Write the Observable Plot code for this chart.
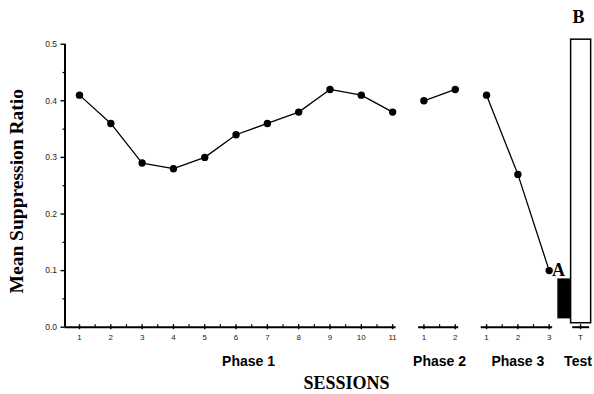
<!DOCTYPE html>
<html><head><meta charset="utf-8">
<script src="https://cdn.jsdelivr.net/npm/d3@7"></script>
<script src="https://cdn.jsdelivr.net/npm/@observablehq/plot@0.6"></script>
<style>
html,body{margin:0;padding:0;background:#fff;}
#chart svg{display:block;overflow:visible;}
</style></head><body><div id="chart"></div>
<script>
// ---- data ----
const panelNames = ["Phase 1", "Phase 2", "Phase 3", "Test"];
const phase1Sessions = [1, 2, 3, 4, 5, 6, 7, 8, 9, 10, 11];
const phase1Values = [0.41, 0.36, 0.29, 0.28, 0.30, 0.34, 0.36, 0.38, 0.42, 0.41, 0.38];
const phase2Sessions = [1, 2];
const phase2Values = [0.40, 0.42];
const phase3Sessions = [1, 2, 3];
const phase3Values = [0.41, 0.27, 0.10];
const testTickLabels = ["T"];
const testBarLabels = ["A", "B"];
const testBarLow = [0.016, 0.007];
const testBarHigh = [0.084, 0.508];
const yTicks = [0, 0.1, 0.2, 0.3, 0.4, 0.5];
const yMinorTicks = [0.05, 0.15, 0.25, 0.35, 0.45];
const yLabel = "Mean Suppression Ratio";
const xLabel = "SESSIONS";

// ---- layout (slot positions) ----
const serif = "'Liberation Serif','Times New Roman',serif";
const sans = "'Liberation Sans',Arial,Helvetica,sans-serif";
const panelOffsets = [0, 11, 13, 16];
const panelSessions = [phase1Sessions, phase2Sessions, phase3Sessions, [1]];
const panelTickLabels = [phase1Sessions.map(String), phase2Sessions.map(String), phase3Sessions.map(String), testTickLabels];
const axisStart = 0.537;
const testPos = panelOffsets[3] + 1;

const seriesValues = [phase1Values, phase2Values, phase3Values];
const points = [];
seriesValues.forEach((vals, k) => {
  panelSessions[k].forEach((s, i) => points.push({panel: panelNames[k], pos: panelOffsets[k] + s, value: vals[i]}));
});

const majorTicks = [], minorTicks = [], segments = [], panelLabels = [];
panelNames.forEach((name, k) => {
  const ss = panelSessions[k];
  ss.forEach((s, i) => majorTicks.push({pos: panelOffsets[k] + s, label: panelTickLabels[k][i]}));
  for (let i = 0; i < ss.length - 1; i++) minorTicks.push({pos: panelOffsets[k] + ss[i] + 0.5});
  const first = panelOffsets[k] + ss[0], last = panelOffsets[k] + ss[ss.length - 1];
  let lo = first - 0.17, hi = last + 0.11;
  if (k === 0) lo = axisStart;
  if (k === 3) { lo = first - 0.25; hi = last + 0.29; }
  segments.push({x1: lo, x2: hi});
  let cx = (first + last) / 2;
  if (k === 0) cx = 6.4;
  if (k === 3) cx = last - 0.08;
  panelLabels.push({pos: cx, name});
});

const bars = testBarLabels.map((l, i) => ({
  label: l, low: testBarLow[i], high: testBarHigh[i],
  x1: i === 0 ? testPos - 0.70 : testPos - 0.30,
  x2: i === 0 ? testPos - 0.30 : testPos + 0.34,
  fill: i === 0 ? "black" : "white"
}));

const chart = Plot.plot({
  width: 594, height: 394,
  marginLeft: 64.5, marginTop: 43.7, marginBottom: 67.3, marginRight: 14,
  style: {background: "white", overflow: "visible"},
  x: {domain: [axisStart, testPos], range: [64.5, 580], axis: null},
  y: {domain: [0, 0.5], range: [326.7, 43.7], axis: null},
  marks: [
    Plot.axisY({ticks: yTicks, tickFormat: d3.format(".1f"), tickSize: 4, tickPadding: 4, fontSize: 8.5, fontFamily: sans, fill: "#222", strokeWidth: 1.4, label: null}),
    Plot.axisY({ticks: yMinorTicks, tickFormat: () => "", tickSize: 2, strokeWidth: 1.2, label: null}),
    Plot.ruleX([0], {x: axisStart, y1: 0, y2: 0.5, strokeWidth: 2}),
    Plot.ruleY(segments, {x1: "x1", x2: "x2", y: 0, strokeWidth: 2}),
    Plot.ruleX(majorTicks, {x: "pos", y1: 0, y2: 0, insetTop: -2.5, insetBottom: -2.5, strokeWidth: 1.4}),
    Plot.ruleX(minorTicks, {x: "pos", y1: 0, y2: 0, insetTop: -2.5, insetBottom: 0, strokeWidth: 1.2}),
    Plot.text(majorTicks, {x: "pos", y: 0, text: "label", dy: 10.5, fontSize: 8, fontFamily: sans, fill: "#222"}),
    Plot.text(panelLabels, {x: "pos", y: 0, text: "name", dy: 34, fontSize: 14, fontWeight: "bold", fontFamily: sans, fill: "black"}),
    Plot.text([xLabel], {x: 9.53, y: 0, text: d => d, dy: 56.5, fontSize: 18, fontWeight: "bold", fontFamily: serif, fill: "black"}),
    Plot.text([yLabel], {frameAnchor: "left", textAnchor: "middle", text: d => d, rotate: -90, dx: -48, dy: 5.5, fontSize: 19.5, fontWeight: "bold", fontFamily: serif, fill: "black"}),
    Plot.line(points, {x: "pos", y: "value", z: "panel", stroke: "black", strokeWidth: 1.3}),
    Plot.dot(points, {x: "pos", y: "value", r: 3.7, fill: "black"}),
    Plot.rect(bars, {x1: "x1", x2: "x2", y1: "low", y2: "high", fill: "fill", stroke: "black", strokeWidth: 1.5}),
    Plot.text(bars.slice(0, 1), {x: "x1", y: 0.1, text: "label", dx: 0, fontSize: 18, fontWeight: "bold", fontFamily: serif, fill: "black"}),
    Plot.text(bars.slice(1), {x: d => d.x1 + 0.24, y: "high", text: "label", dy: -22, fontSize: 18, fontWeight: "bold", fontFamily: serif, fill: "black"})
  ]
});
document.getElementById("chart").appendChild(chart);
</script>
</body></html>
